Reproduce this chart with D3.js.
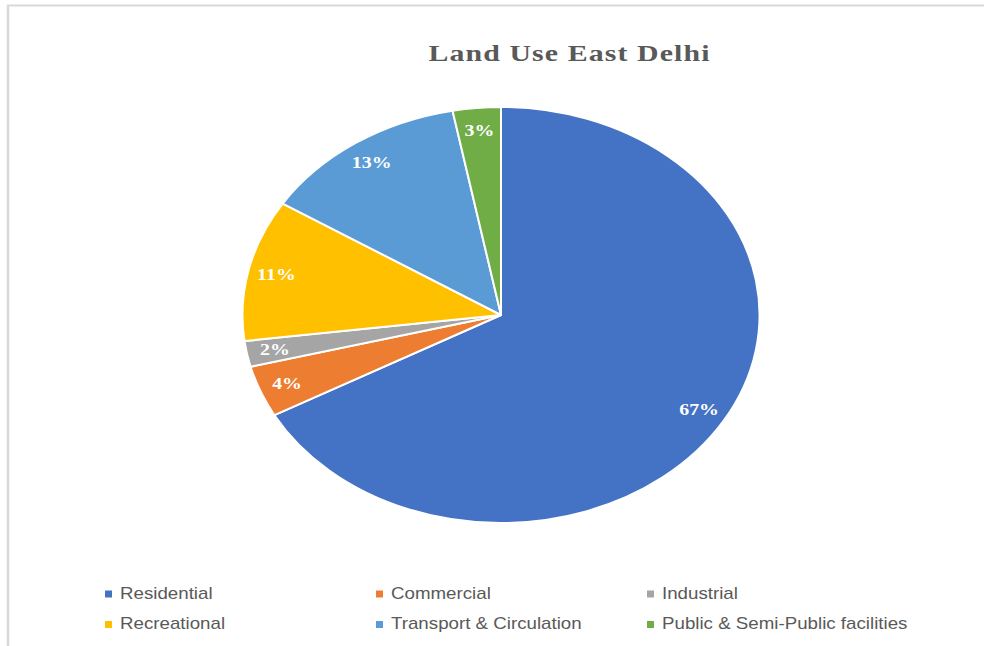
<!DOCTYPE html>
<html>
<head>
<meta charset="utf-8">
<script src="https://cdn.jsdelivr.net/npm/d3@7"></script>
<style>
  html, body { margin: 0; padding: 0; background: #fff; }
  svg { display: block; }
</style>
</head>
<body>
<svg id="chart" width="984" height="646"></svg>
<script>
// Land use shares, East Delhi (percent)
const categories = ["Residential", "Commercial", "Industrial", "Recreational", "Transport & Circulation", "Public & Semi-Public facilities"];
const values = [67, 4, 2, 11, 13, 3];
const colors = ["#4472C4", "#ED7D31", "#A5A5A5", "#FFC000", "#5B9BD5", "#70AD47"];
const title = "Land Use East Delhi";

const W = 984, H = 646;
const svg = d3.select("#chart");

// horizontal stretch applied to the pie and its text
const sx = 1.243;
const cx = 501, cy = 315, r = 208;

// chart frame edges
svg.append("line").attr("x1", 7).attr("x2", W).attr("y1", 5.5).attr("y2", 5.5)
  .attr("stroke", "#d9d9d9").attr("stroke-width", 2);
svg.append("line").attr("x1", 8).attr("x2", 8).attr("y1", 5).attr("y2", H)
  .attr("stroke", "#d9d9d9").attr("stroke-width", 2.5);

// title
svg.append("text")
  .attr("transform", `translate(569.5,61) scale(${sx},1)`)
  .attr("text-anchor", "middle")
  .attr("font-family", "'Liberation Serif', 'Times New Roman', serif")
  .attr("font-weight", "bold")
  .attr("font-size", 24)
  .attr("letter-spacing", 0.9)
  .attr("fill", "#595959")
  .text(title);

const data = categories.map((c, i) => ({ name: c, value: values[i], color: colors[i] }));
const pie = d3.pie().value(d => d.value).sort(null);
const arcs = pie(data);
const arc = d3.arc().innerRadius(0).outerRadius(r);
const labelArc = d3.arc().innerRadius(r * 0.89).outerRadius(r * 0.89);

const g = svg.append("g").attr("transform", `translate(${cx},${cy})`);
g.append("g").attr("transform", `scale(${sx},1)`)
  .selectAll("path").data(arcs).join("path")
  .attr("d", arc)
  .attr("fill", d => d.data.color)
  .attr("stroke", "#fff")
  .attr("stroke-width", 2)
  .attr("vector-effect", "non-scaling-stroke")
  .attr("stroke-linejoin", "round");

// percentage labels
g.selectAll("text.lbl").data(arcs).join("text")
  .attr("class", "lbl")
  .attr("transform", d => {
    const [x, y] = labelArc.centroid(d);
    return `translate(${x * sx},${y}) scale(${sx},1)`;
  })
  .attr("text-anchor", "middle")
  .attr("dy", "0.35em")
  .attr("font-family", "'Liberation Serif', 'Times New Roman', serif")
  .attr("font-weight", "bold")
  .attr("font-size", 16)
  .attr("fill", "#fff")
  .text(d => d3.format(".0f")(d.data.value) + "%");

// legend: 3 columns x 2 rows
const colX = [105, 376, 647];
const rowY = [590.5, 621];
const leg = svg.append("g").selectAll("g").data(data).join("g")
  .attr("transform", (d, i) => `translate(${colX[i % 3]},${rowY[Math.floor(i / 3)]})`);
leg.append("rect").attr("width", 7).attr("height", 7).attr("fill", d => d.color);
leg.append("text")
  .attr("transform", `translate(15,8.3) scale(1.17,1)`)
  .attr("font-family", "'Liberation Sans', Arial, sans-serif")
  .attr("font-size", 16)
  .attr("fill", "#595959")
  .text(d => d.name);
</script>
</body>
</html>
